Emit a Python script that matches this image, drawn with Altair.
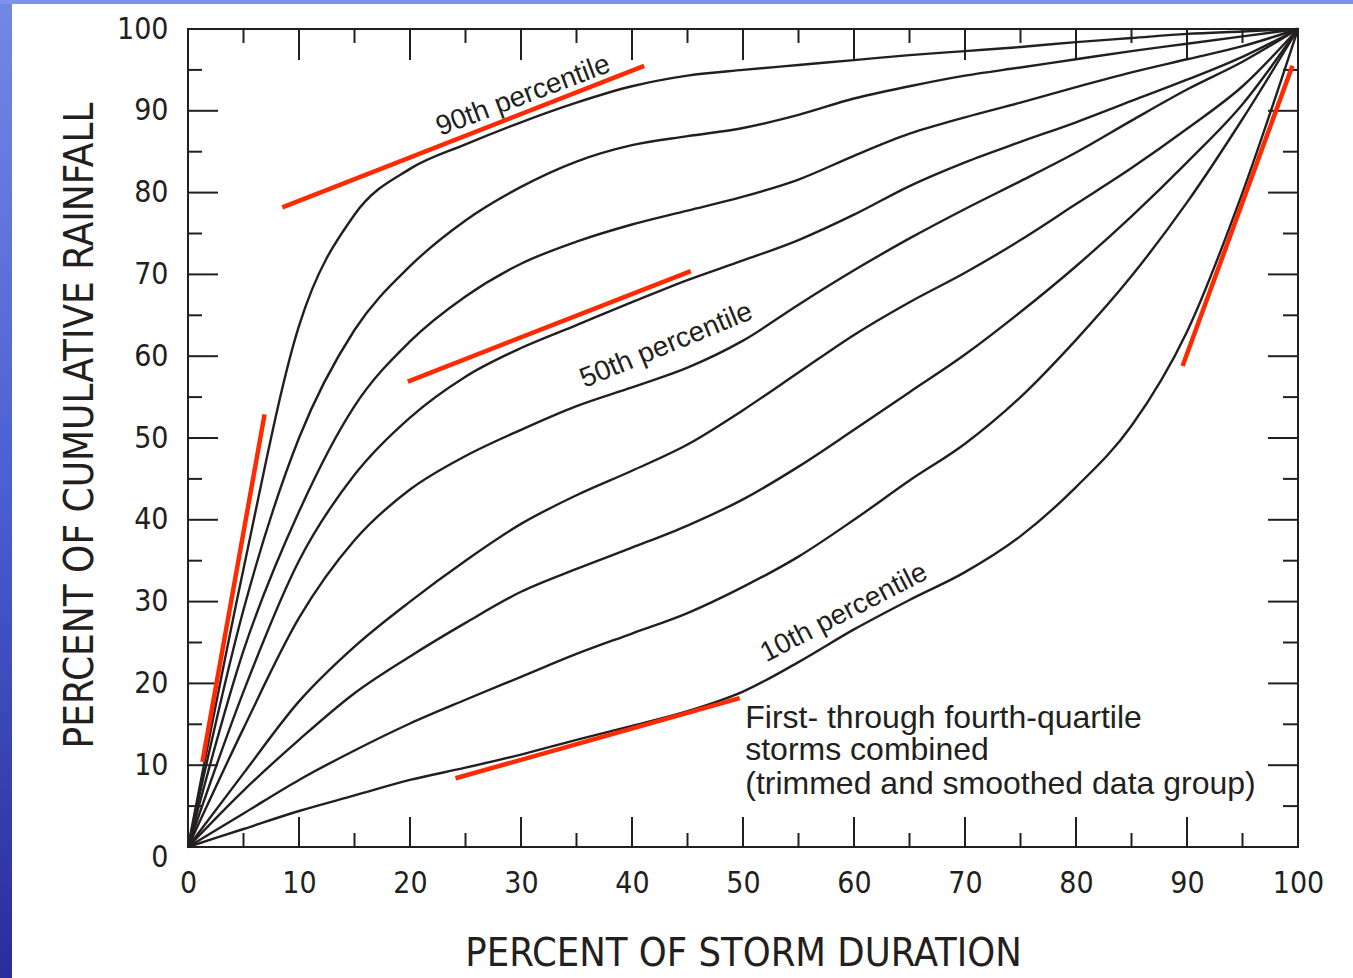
import altair as alt
import pandas as pd

# ---------------- data ----------------
duration = [0, 5, 10, 15, 20, 25, 30, 35, 40, 45, 50, 55, 60, 65, 70, 75, 80, 85, 90, 95, 100]

p10 = [0, 2.2, 4.4, 6.3, 8.2, 9.7, 11.3, 13.1, 14.8, 16.6, 19.0, 22.6, 26.6, 30.2, 33.6, 38.0, 44.0, 51.5, 63.0, 80.0, 100]
p20 = [0, 4.1, 8.2, 11.8, 15.1, 18.0, 20.8, 23.6, 26.1, 28.6, 31.8, 35.5, 40.0, 44.8, 49.3, 55.0, 62.0, 69.8, 78.8, 89.0, 100]
p30 = [0, 6.9, 13.1, 18.8, 23.3, 27.4, 31.2, 34.0, 36.6, 39.3, 42.5, 46.5, 51.0, 55.6, 60.2, 65.4, 71.0, 77.1, 83.7, 90.8, 100]
p40 = [0, 9.0, 17.8, 24.5, 30.0, 35.0, 39.5, 43.0, 46.0, 49.2, 53.4, 58.0, 62.6, 66.6, 70.2, 74.2, 78.6, 83.0, 87.8, 93.0, 100]
p50 = [0, 14.5, 28.0, 37.5, 43.7, 47.8, 51.0, 53.9, 56.2, 58.6, 61.9, 66.3, 70.5, 74.4, 78.0, 81.4, 84.9, 88.8, 92.6, 96.0, 100]
p60 = [0, 19.0, 35.0, 45.5, 52.5, 57.5, 61.0, 63.8, 66.6, 69.3, 71.7, 74.2, 77.3, 80.8, 83.7, 86.2, 88.6, 91.2, 93.8, 96.6, 100]
p70 = [0, 24.0, 41.0, 53.9, 61.8, 67.3, 71.3, 74.0, 76.1, 77.8, 79.5, 81.6, 84.5, 87.2, 89.2, 91.0, 92.9, 94.7, 96.3, 97.9, 100]
p80 = [0, 29.0, 50.0, 63.2, 71.0, 76.6, 80.7, 83.8, 85.8, 86.9, 87.9, 89.5, 91.5, 93.0, 94.3, 95.3, 96.3, 97.3, 98.2, 99.1, 100]
p90 = [0, 34.0, 63.7, 77.3, 82.9, 85.9, 88.6, 91.0, 93.0, 94.3, 95.0, 95.6, 96.2, 96.8, 97.3, 97.8, 98.4, 98.9, 99.4, 99.7, 100]

series_names = ["10th", "20th", "30th", "40th", "50th", "60th", "70th", "80th", "90th"]
series_values = [p10, p20, p30, p40, p50, p60, p70, p80, p90]

# red highlight segments (start x, start y, end x, end y)
red_x1 = [8.5, 19.8, 1.3, 24.1, 89.6]
red_y1 = [78.2, 56.9, 10.4, 8.4, 58.8]
red_x2 = [41.1, 45.3, 6.9, 49.7, 99.5]
red_y2 = [95.5, 70.4, 52.9, 18.2, 95.5]

# curve labels
label_text = ["90th percentile", "50th percentile", "10th percentile"]
label_x = [30.2, 43.1, 59.1]
label_y = [91.8, 61.3, 28.6]
label_angle = [339.3, 337.6, 332.6]

note_lines = ["First- through fourth-quartile", "storms combined", "(trimmed and smoothed data group)"]
note_x = [50.2, 50.2, 50.2]
note_y = [14.6, 10.6, 6.5]

major_ticks = list(range(0, 101, 10))
minor_ticks = list(range(5, 100, 10))

# ---------------- tables ----------------
rows = []
for name, vals in zip(series_names, series_values):
    for d, v in zip(duration, vals):
        rows.append({"duration": d, "rain": v, "pct": name})
curves_df = pd.DataFrame(rows)
red_df = pd.DataFrame({"x1": red_x1, "y1": red_y1, "x2": red_x2, "y2": red_y2})
lab_df = pd.DataFrame({"text": label_text, "x": label_x, "y": label_y, "angle": label_angle})
note_df = pd.DataFrame({"text": note_lines, "x": note_x, "y": note_y})
maj_df = pd.DataFrame({"t": major_ticks})
min_df = pd.DataFrame({"t": minor_ticks})
one_df = pd.DataFrame({"a": [0]})

INK = "#231f20"
NARROW = "DejaVu Sans Condensed"
REG = "Liberation Sans"
W, H = 1110, 818

xscale = alt.Scale(domain=[0, 100], nice=False, zero=False)
yscale = alt.Scale(domain=[0, 100], nice=False, zero=False)

x_axis = alt.Axis(
    values=major_ticks, ticks=False, tickSize=0, domain=False, grid=False,
    labelFont=NARROW, labelFontSize=30, labelColor=INK, labelPadding=21,
    labelFlush=False, labelOverlap=False, format="d",
    title="PERCENT OF STORM DURATION", titleFont=NARROW, titleFontSize=39.5,
    titleFontWeight="normal", titleColor=INK, titleY=118, titleX=555,
    titleBaseline="alphabetic", titleAlign="center",
)
y_axis = alt.Axis(
    values=major_ticks, ticks=False, tickSize=0, domain=False, grid=False,
    labelFont=NARROW, labelFontSize=30, labelColor=INK, labelPadding=20,
    labelFlush=False, labelOverlap=False, format="d",
    labelOffset={"condition": {"test": "datum.value == 0", "value": 10}, "value": 0},
    title="PERCENT OF CUMULATIVE RAINFALL", titleFont=NARROW, titleFontSize=40,
    titleFontWeight="normal", titleColor=INK, titleAngle=270, titleX=-96, titleY=396,
    titleBaseline="alphabetic", titleAlign="center",
)

# blue slide edges
grad = alt.LinearGradient(
    gradient="linear",
    stops=[alt.GradientStop(offset=0, color="#7288e6"),
           alt.GradientStop(offset=0.5, color="#4a5fd0"),
           alt.GradientStop(offset=1, color="#2a2c9c")],
    x1=0, x2=0, y1=0, y2=1,
)
left_strip = alt.Chart(one_df).mark_rect(color=grad).encode(
    x=alt.value(-188), x2=alt.value(-176), y=alt.value(-29), y2=alt.value(949)
)
top_strip = alt.Chart(one_df).mark_rect(color="#7d92ea").encode(
    x=alt.value(-188), x2=alt.value(1165), y=alt.value(-29), y2=alt.value(-25)
)

def xticks(df, y0, y1):
    return alt.Chart(df).mark_rule(color=INK, strokeWidth=2).encode(
        x=alt.X("t:Q", scale=xscale, axis=x_axis), y=alt.value(y0), y2=alt.value(y1)
    )

def yticks(df, x0, x1):
    return alt.Chart(df).mark_rule(color=INK, strokeWidth=2).encode(
        y=alt.Y("t:Q", scale=yscale, axis=y_axis), x=alt.value(x0), x2=alt.value(x1)
    )

ticks = [
    xticks(maj_df, H, H - 30), xticks(min_df, H, H - 14),
    xticks(maj_df, 0, 31), xticks(min_df, 0, 14),
    yticks(maj_df, 0, 30), yticks(min_df, 0, 14),
    yticks(maj_df, W, W - 30), yticks(min_df, W, W - 15),
]

curves = alt.Chart(curves_df).mark_line(strokeWidth=2.4, interpolate="monotone").encode(
    x=alt.X("duration:Q", scale=xscale, axis=x_axis),
    y=alt.Y("rain:Q", scale=yscale, axis=y_axis),
    color=alt.Color("pct:N", scale=alt.Scale(range=[INK]), legend=None),
)

reds = alt.Chart(red_df).mark_rule(color="#ff2a00", strokeWidth=4.5).encode(
    x=alt.X("x1:Q", scale=xscale, axis=x_axis),
    y=alt.Y("y1:Q", scale=yscale, axis=y_axis),
    x2="x2:Q", y2="y2:Q",
)

labels = alt.Chart(lab_df).mark_text(
    font=REG, fontSize=28, color=INK, align="center", baseline="middle"
).encode(
    x=alt.X("x:Q", scale=xscale, axis=x_axis),
    y=alt.Y("y:Q", scale=yscale, axis=y_axis),
    text="text:N",
    angle=alt.Angle("angle:Q", scale=None),
)

note = alt.Chart(note_df).mark_text(
    font=REG, fontSize=32, color=INK, align="left", baseline="alphabetic"
).encode(
    x=alt.X("x:Q", scale=xscale, axis=x_axis),
    y=alt.Y("y:Q", scale=yscale, axis=y_axis),
    text="text:N",
)

chart = alt.layer(
    left_strip, top_strip, *ticks, curves, reds, labels, note
).properties(
    width=W, height=H,
    autosize=alt.AutoSizeParams(type="none"),
    padding={"left": 188, "top": 29, "right": 55, "bottom": 131},
    background="white",
).configure_view(
    stroke=INK, strokeWidth=2
)

chart.save("out.html", embed_options={"renderer": "svg", "actions": False})
